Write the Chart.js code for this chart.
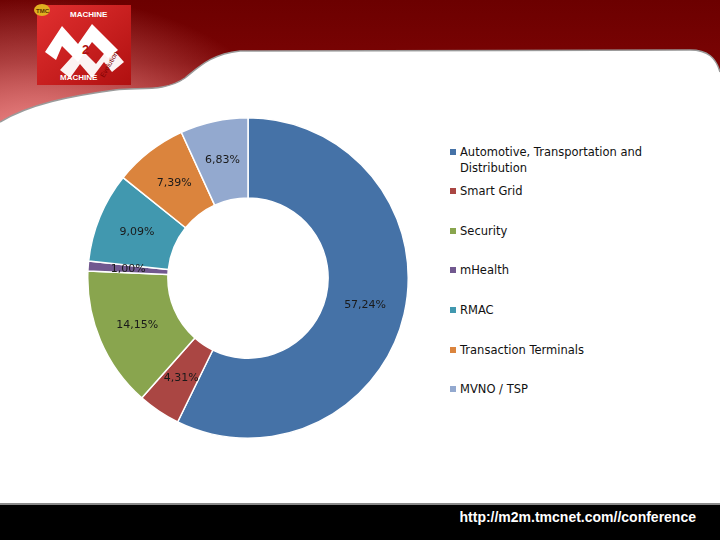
<!DOCTYPE html>
<html lang="en">
<head>
<meta charset="utf-8" />
<title>M2M segments</title>
<script src="https://cdn.jsdelivr.net/npm/chart.js@4/dist/chart.umd.min.js"></script>
<style>
  html, body { margin: 0; padding: 0; }
  body { width: 720px; height: 540px; position: relative; overflow: hidden; background: #fff; font-family: "DejaVu Sans", sans-serif; }
  #bg { position: absolute; left: 0; top: 0; }
  #chartBox { position: absolute; left: 87px; top: 117px; width: 322px; height: 322px; }
  #legend { position: absolute; left: 0; top: 0; }
  .leg { position: absolute; left: 460px; font-size: 11.5px; line-height: 16px; color: #111; width: 210px; }
  .leg span { position: absolute; left: -10px; top: 5px; width: 6px; height: 6px; }
  #url { position: absolute; right: 24px; top: 509px; font-family: "Liberation Sans", Arial, sans-serif; font-weight: bold; font-size: 14px; color: #fff; }
</style>
</head>
<body>
<svg id="bg" width="720" height="540" xmlns="http://www.w3.org/2000/svg">
  <defs>
    <linearGradient id="hdr" x1="0" y1="0" x2="0" y2="1">
      <stop offset="0" stop-color="#6c0000"/>
      <stop offset="0.45" stop-color="#7a0404"/>
      <stop offset="1" stop-color="#b02a2a"/>
    </linearGradient>
    <radialGradient id="glow" cx="0.05" cy="1" r="0.35" gradientTransform="scale(1,3) translate(0,-0.66)">
      <stop offset="0" stop-color="#f08c8c"/>
      <stop offset="1" stop-color="#f08c8c" stop-opacity="0"/>
    </radialGradient>
    <linearGradient id="logo" x1="0" y1="0" x2="1" y2="1">
      <stop offset="0" stop-color="#e23030"/>
      <stop offset="1" stop-color="#b01010"/>
    </linearGradient>
  </defs>
  <rect x="0" y="0" width="720" height="140" fill="url(#hdr)"/>
  <rect x="0" y="0" width="720" height="140" fill="url(#glow)"/>
  <path d="M0,122 C30,104 70,96 115,90 C140,87 165,92 185,78 C200,66 212,54 240,51 L690,50 C708,50 716,58 720,72 L720,505 L0,505 Z" fill="#fff"/>
  <path d="M0,122 C30,104 70,96 115,90 C140,87 165,92 185,78 C200,66 212,54 240,51 L690,50 C708,50 716,58 720,72" fill="none" stroke="#9a9a9a" stroke-width="1.5"/>
  <!-- logo -->
  <rect x="37" y="5" width="94" height="80" fill="url(#logo)"/>
  <path d="M45,52 L62,26 L78,44 L92,24 L118,50 L108,58 L92,42 L78,62 L62,46 L56,60 Z" fill="#fff"/>
  <path d="M60,70 L80,48 L96,64 L110,46 L124,62 L112,72 L104,62 L92,78 L80,64 L70,78 Z" fill="#fff" opacity="0.95"/>
  <text x="82" y="54" font-family="Liberation Sans, Arial" font-weight="bold" font-size="13" fill="#b01010">2</text>
  <text x="70" y="17" font-family="Liberation Sans, Arial" font-weight="bold" font-size="8" fill="#fff">MACHINE</text>
  <text x="60" y="80" font-family="Liberation Sans, Arial" font-weight="bold" font-size="8" fill="#fff">MACHINE</text>
  <text x="104" y="78" font-family="Liberation Sans, Arial" font-size="7" fill="#7a0000" transform="rotate(-60 104 78)">Evolution</text>
  <ellipse cx="42" cy="10" rx="8" ry="6" fill="#e0b020"/>
  <text x="36" y="12.5" font-family="Liberation Sans, Arial" font-weight="bold" font-size="6" fill="#5a3000">TMC</text>
  <!-- footer -->
  <rect x="0" y="503" width="720" height="2" fill="#8a8a8a"/>
  <rect x="0" y="505" width="720" height="35" fill="#000"/>
</svg>
<div id="url">http://m2m.tmcnet.com//conference</div>
<div id="chartBox"><canvas id="segmentsChart"></canvas></div>
<div id="legend"></div>

<script type="text/javascript">
    const categories = ['Automotive, Transportation and Distribution', 'Smart Grid', 'Security', 'mHealth', 'RMAC', 'Transaction Terminals', 'MVNO / TSP'];
    const shares = [57.24, 4.31, 14.15, 1.00, 9.09, 7.39, 6.83];
    const shareLabels = ['57,24%', '4,31%', '14,15%', '1,00%', '9,09%', '7,39%', '6,83%'];
    const colours = ['#4572A7', '#AA4643', '#89A54E', '#71588F', '#4198AF', '#DB843D', '#93A9CF'];

    // legend built from the arrays (spacing follows the original slide)
    const legendTops = [144, 183, 223, 262, 302, 342, 381];
    let legendHtml = '';
    categories.forEach(function (name, i) {
        let text = name === categories[0] ? 'Automotive, Transportation and<br>Distribution' : name;
        legendHtml += `<div class="leg" style="top:${legendTops[i]}px"><span style="background:${colours[i]}"></span>${text}</div>`;
    });
    document.getElementById('legend').innerHTML = legendHtml;

    const sliceLabels = {
        id: 'sliceLabels',
        afterDatasetsDraw(chart) {
            const ctx = chart.ctx;
            ctx.save();
            ctx.font = '11px "DejaVu Sans", sans-serif';
            ctx.fillStyle = '#1a1a1a';
            ctx.textAlign = 'center';
            ctx.textBaseline = 'middle';
            chart.getDatasetMeta(0).data.forEach(function (arc, i) {
                const p = arc.getCenterPoint();
                ctx.fillText(shareLabels[i], p.x, p.y);
            });
            ctx.restore();
        }
    };

    new Chart(document.getElementById('segmentsChart'), {
        type: 'doughnut',
        data: {
            labels: categories,
            datasets: [{
                data: shares,
                backgroundColor: colours,
                borderColor: '#ffffff',
                borderWidth: 1.5,
                hoverOffset: 0
            }]
        },
        options: {
            responsive: true,
            maintainAspectRatio: false,
            animation: false,
            cutout: '50%',
            plugins: {
                legend: { display: false },
                tooltip: { enabled: false }
            }
        },
        plugins: [sliceLabels]
    });
</script>
</body>
</html>
